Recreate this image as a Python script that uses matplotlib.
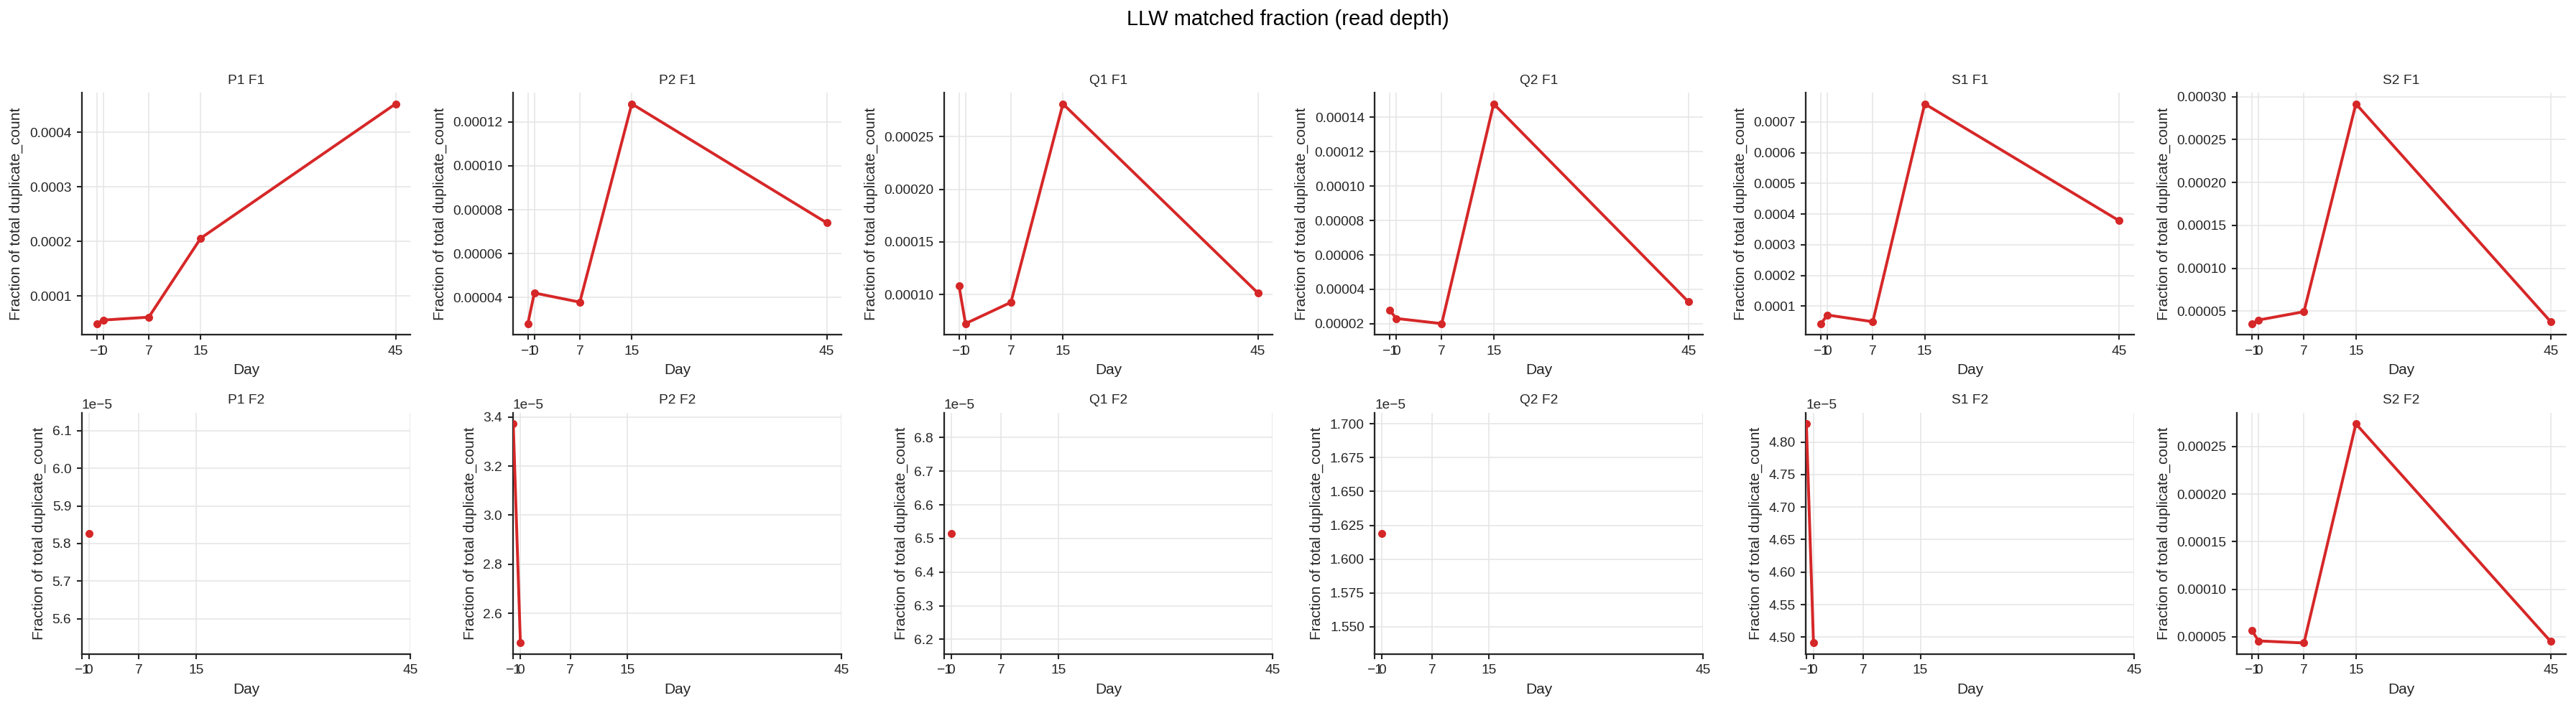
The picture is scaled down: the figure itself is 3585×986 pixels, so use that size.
import matplotlib
matplotlib.use("Agg")
import matplotlib.pyplot as plt
import numpy as np

plt.rcParams['font.family'] = ['Liberation Sans', 'DejaVu Sans']

days = [-1, 0, 7, 15, 45]
xticks = [-1, 0, 7, 15, 45]

titles_f1 = ["P1 F1", "P2 F1", "Q1 F1", "Q2 F1", "S1 F1", "S2 F1"]
titles_f2 = ["P1 F2", "P2 F2", "Q1 F2", "Q2 F2", "S1 F2", "S2 F2"]

# F1 series (day -1, 0, 7, 15, 45)
p1_f1 = [0.0000496, 0.0000561, 0.0000614, 0.000206, 0.000452]
p2_f1 = [0.0000280, 0.0000420, 0.0000378, 0.0001283, 0.0000740]
q1_f1 = [0.0001086, 0.0000725, 0.0000927, 0.000281, 0.0001016]
q2_f1 = [0.0000278, 0.0000231, 0.0000201, 0.0001478, 0.0000328]
s1_f1 = [0.0000430, 0.0000711, 0.0000492, 0.000759, 0.000378]
s2_f1 = [0.0000355, 0.0000397, 0.0000494, 0.0002916, 0.0000377]

# F2 series (only available days)
p1_f2_days = [0]
p1_f2 = [5.827e-5]
p2_f2_days = [-1, 0]
p2_f2 = [3.372e-5, 2.479e-5]
q1_f2_days = [0]
q1_f2 = [6.515e-5]
q2_f2_days = [0]
q2_f2 = [1.619e-5]
s1_f2_days = [-1, 0]
s1_f2 = [4.828e-5, 4.491e-5]
s2_f2_days = [-1, 0, 7, 15, 45]
s2_f2 = [0.0000565, 0.0000457, 0.0000435, 0.0002738, 0.0000450]

row1 = [(days, p1_f1), (days, p2_f1), (days, q1_f1), (days, q2_f1), (days, s1_f1), (days, s2_f1)]
row2 = [(p1_f2_days, p1_f2), (p2_f2_days, p2_f2), (q1_f2_days, q1_f2),
        (q2_f2_days, q2_f2), (s1_f2_days, s1_f2), (s2_f2_days, s2_f2)]

W, H = 3585, 986
fig = plt.figure(figsize=(W / 150, H / 150), dpi=150)

lefts = [113.9, 713.8, 1313.8, 1913.4, 2513.4, 3113.3]
rights = [571.4, 1171.3, 1771.3, 2370.5, 2970.1, 3570.6]
rows_y = [(129.3, 466.0), (575.0, 910.7)]

color = '#d62728'
dark = '#262626'

for r, (rowdata, titles) in enumerate([(row1, titles_f1), (row2, titles_f2)]):
    top, bot = rows_y[r]
    for c in range(6):
        l, rt = lefts[c], rights[c]
        ax = fig.add_axes([l / W, 1 - bot / H, (rt - l) / W, (bot - top) / H])
        x, y = rowdata[c]
        ax.plot(x, y, color=color, lw=1.9, marker='o', ms=4.3, mew=1.0, zorder=3)
        ax.set_xticks(xticks)
        ax.set_title(titles[c], fontsize=9.2, color=dark, pad=6)
        ax.set_xlabel("Day", fontsize=10, color=dark)
        ax.set_ylabel("Fraction of total duplicate_count", fontsize=10, color=dark)
        ax.grid(True, color='#e6e6e6', lw=0.8)
        ax.set_axisbelow(True)
        for s in ['top', 'right']:
            ax.spines[s].set_visible(False)
        for s in ['left', 'bottom']:
            ax.spines[s].set_linewidth(1.1)
            ax.spines[s].set_color(dark)
        ax.tick_params(axis='both', labelsize=9.2, length=3.5, width=1.0, colors=dark)
        ax.yaxis.get_offset_text().set_fontsize(9.2)

fig.suptitle("LLW matched fraction (read depth)", fontsize=14, y=1 - 27 / H, va='center')
fig.savefig("out.png", dpi=150)
